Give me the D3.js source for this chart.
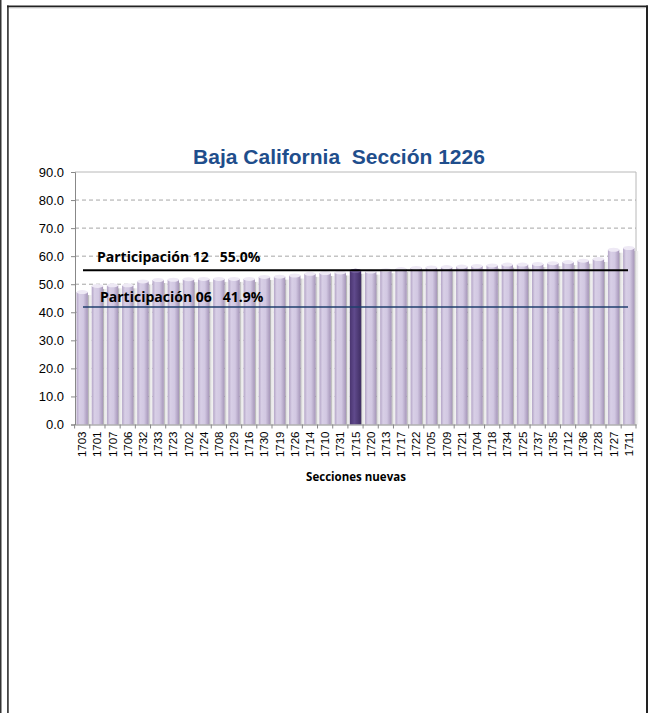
<!DOCTYPE html>
<html><head><meta charset="utf-8">
<script src="https://cdn.jsdelivr.net/npm/d3@7"></script>
<style>body{margin:0;background:#fff}svg{display:block}</style>
</head><body><svg id="c" width="648" height="713"></svg>
<script>
const categories = ["1703","1701","1707","1706","1732","1733","1723","1702","1724","1708","1729","1716","1730","1719","1726","1714","1710","1731","1715","1720","1713","1717","1722","1705","1709","1721","1704","1718","1734","1725","1737","1735","1712","1736","1728","1727","1711"];
const values = [47.2,49.4,49.6,49.6,51.0,51.5,51.6,51.8,51.9,51.9,51.9,51.9,52.6,52.7,53.1,53.7,54.0,54.2,54.8,54.5,55.0,55.4,55.8,56.0,56.1,56.3,56.5,56.7,57.0,57.0,57.2,57.5,57.9,58.4,59.0,62.3,62.9];
const highlight = "1715";
const yTicks = [0,10,20,30,40,50,60,70,80,90];
const refLines = [{label:"Participación 12   55.0%", value:55.0}, {label:"Participación 06   41.9%", value:41.9}];
const title = "Baja California  Sección 1226";
const xTitle = "Secciones nuevas";

const svg = d3.select("#c");
// outer frame
svg.append("rect").attr("x",0).attr("y",0).attr("width",1.5).attr("height",713).attr("fill","#333");
svg.append("rect").attr("x",7).attr("y",5.5).attr("width",1.8).attr("height",708).attr("fill","#444");
svg.append("rect").attr("x",7).attr("y",5.5).attr("width",641).attr("height",1.8).attr("fill","#222");
svg.append("rect").attr("x",9).attr("y",7.3).attr("width",636).attr("height",1).attr("fill","#bbb");
svg.append("rect").attr("x",646).attr("y",5.5).attr("width",2).attr("height",708).attr("fill","#222");

const L=75, R=636, T=172, B=424.5;
const x = d3.scaleBand().domain(categories).range([L,R]).paddingInner(0.25).paddingOuter(0.1);
const y = d3.scaleLinear().domain([0,90]).range([B,T]);

const defs = svg.append("defs");
const g1 = defs.append("linearGradient").attr("id","bar").attr("x1","0").attr("x2","1");
[["0","#b3a4c6"],["0.25","#d8cfe6"],["0.6","#d2c8e2"],["1","#a595b8"]].forEach(s=>g1.append("stop").attr("offset",s[0]).attr("stop-color",s[1]));
const g2 = defs.append("linearGradient").attr("id","barH").attr("x1","0").attr("x2","1");
[["0","#4a3570"],["0.4","#604a8c"],["1","#3f2d62"]].forEach(s=>g2.append("stop").attr("offset",s[0]).attr("stop-color",s[1]));
const g3 = defs.append("linearGradient").attr("id","gap").attr("x1","0").attr("x2","1");
[["0","#9a9a9a"],["0.35","#e6e6e6"],["1","#f4f4f4"]].forEach(s=>g3.append("stop").attr("offset",s[0]).attr("stop-color",s[1]));

// plot border
svg.append("line").attr("x1",L).attr("x2",R).attr("y1",T).attr("y2",T).attr("stroke","#b8b8b8");
svg.append("line").attr("x1",R).attr("x2",R).attr("y1",T).attr("y2",B).attr("stroke","#b8b8b8");
// gridlines
svg.append("g").selectAll("line").data(yTicks.filter(d=>d>0&&d<90)).join("line")
  .attr("x1",L).attr("x2",R).attr("y1",d=>y(d)).attr("y2",d=>y(d))
  .attr("stroke","#a6a6a6").attr("stroke-dasharray","4,3");

// bars with shadow/gap
const bw = x.bandwidth();
const bars = svg.append("g");
bars.selectAll("rect.sh").data(categories).join("rect").attr("class","sh")
  .attr("x",d=>x(d)+bw).attr("width",x.step()-bw).attr("y",(d,i)=>y(values[i])+3).attr("height",(d,i)=>B-y(values[i])-3)
  .attr("fill","url(#gap)");
bars.selectAll("rect.b").data(categories).join("rect").attr("class","b")
  .attr("x",d=>x(d)).attr("width",bw).attr("y",(d,i)=>y(values[i])).attr("height",(d,i)=>B-y(values[i]))
  .attr("fill",d=>d===highlight?"url(#barH)":"url(#bar)");
bars.selectAll("ellipse").data(categories).join("ellipse")
  .attr("cx",d=>x(d)+bw/2).attr("cy",(d,i)=>y(values[i])).attr("rx",bw/2).attr("ry",2)
  .attr("fill",d=>d===highlight?"#7a66a3":"#eee9f5");

// axes
const ya = svg.append("g").attr("transform",`translate(${L},0)`)
  .call(d3.axisLeft(y).tickValues(yTicks).tickFormat(d3.format(".1f")).tickSize(4));
ya.select(".domain").attr("stroke","#888");
ya.selectAll(".tick line").attr("stroke","#888");
ya.selectAll("text").attr("font-family","Liberation Sans, Arial, sans-serif").attr("font-size","13px").attr("fill","#000").attr("dx","-4");

const xa = svg.append("g").attr("transform",`translate(0,${B})`)
  .call(d3.axisBottom(x).tickSize(0).tickSizeOuter(0));
xa.select(".domain").attr("stroke","#888");
xa.selectAll(".tick text").attr("font-family","Liberation Sans, Arial, sans-serif").attr("font-size","11.5px").attr("fill","#000")
  .attr("transform","rotate(-90)").attr("text-anchor","end").attr("x",-7).attr("y",0).attr("dy","0.35em");
// x tick marks between categories
svg.append("g").selectAll("line").data(categories.concat(["_end"])).join("line")
  .attr("x1",(d,i)=> i<categories.length ? x(d)-x.step()*x.paddingInner()/2 : R).attr("x2",(d,i)=> i<categories.length ? x(d)-x.step()*x.paddingInner()/2 : R)
  .attr("y1",B).attr("y2",B+4).attr("stroke","#888");

// reference lines
const rl = svg.append("g");
rl.append("line").attr("x1",83).attr("x2",628).attr("y1",y(refLines[0].value)).attr("y2",y(refLines[0].value)).attr("stroke","#000").attr("stroke-width",2);
rl.append("line").attr("x1",83).attr("x2",628).attr("y1",y(refLines[1].value)).attr("y2",y(refLines[1].value)).attr("stroke","#1f3f6e").attr("stroke-width",1.5);
rl.append("text").attr("x",97).attr("y",y(refLines[0].value)-8).text(refLines[0].label)
  .attr("font-family","Open Sans, DejaVu Sans, sans-serif").attr("font-weight","bold").attr("font-size","14px").style("white-space","pre");
rl.append("text").attr("x",100).attr("y",y(refLines[1].value)-5).text(refLines[1].label)
  .attr("font-family","Open Sans, DejaVu Sans, sans-serif").attr("font-weight","bold").attr("font-size","14px").style("white-space","pre");

svg.append("text").attr("x",339).attr("y",164).attr("text-anchor","middle").text(title)
  .attr("font-family","Liberation Sans, Arial, sans-serif").attr("font-weight","bold").attr("font-size","21px").attr("fill","#1f4e8c").style("white-space","pre");
svg.append("text").attr("x",356).attr("y",481).attr("text-anchor","middle").text(xTitle)
  .attr("font-family","Open Sans, DejaVu Sans, sans-serif").attr("font-weight","bold").attr("font-size","11.5px").attr("fill","#000").style("white-space","pre");
</script></body></html>
